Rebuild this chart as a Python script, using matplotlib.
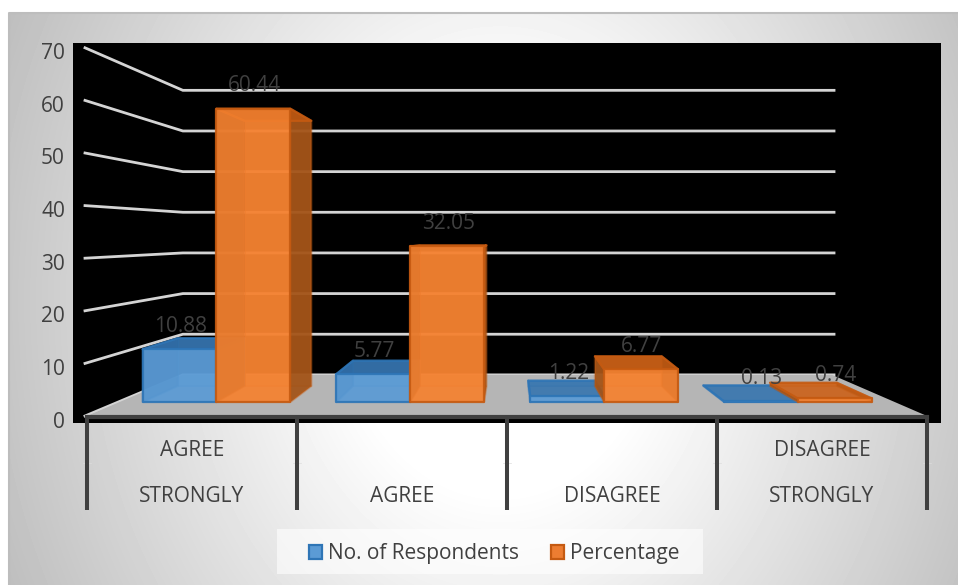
import matplotlib
matplotlib.use("Agg")
import matplotlib.pyplot as plt
import numpy as np
from matplotlib.patches import Polygon, Rectangle

plt.rcParams['font.family'] = ['Open Sans', 'DejaVu Sans']

categories = [["AGREE", "STRONGLY"], ["AGREE"], ["DISAGREE"], ["DISAGREE", "STRONGLY"]]
respondents = [10.88, 5.77, 1.22, 0.13]
percentage = [60.44, 32.05, 6.77, 0.74]
value_ticks = [0, 10, 20, 30, 40, 50, 60, 70]

W, H = 958, 585
TEXT = "#404040"

# perspective set up in pixels
FRONT_LEFT, FRONT_RIGHT = 87, 927
FRONT_Y, PX_PER_UNIT = 416, 5.26
CX, VY = 509, 235
K = 0.294
CAT_W = (FRONT_RIGHT - FRONT_LEFT) / len(categories)
BAR_W = 80
D0, D1 = 0.284, 0.677


def project(u, v, d):
    s = 1 / (1 + K * d)
    x = CX + (u - CX) * s
    y = VY + (FRONT_Y - PX_PER_UNIT * v - VY) * s
    return x, y


def draw_bar(ax, u0, value, fill, side, top, edge, z):
    u1 = u0 + BAR_W
    p = project
    faces = [
        ([p(u0, 0, D1), p(u1, 0, D1), p(u1, value, D1), p(u0, value, D1)], fill, 0.7),
        ([p(u0, 0, D0), p(u1, 0, D0), p(u1, 0, D1), p(u0, 0, D1)], fill, 0.55),
        ([p(u0, 0, D0), p(u0, 0, D1), p(u0, value, D1), p(u0, value, D0)], side, 0.85),
        ([p(u1, 0, D0), p(u1, 0, D1), p(u1, value, D1), p(u1, value, D0)], side, 0.85),
        ([p(u0, value, D0), p(u1, value, D0), p(u1, value, D1), p(u0, value, D1)], top, 0.75),
        ([p(u0, 0, D0), p(u1, 0, D0), p(u1, value, D0), p(u0, value, D0)], fill, 0.85),
    ]
    for i, (pts, color, alpha) in enumerate(faces):
        ax.add_patch(Polygon(pts, closed=True, facecolor=color, alpha=alpha, edgecolor="none", zorder=z + i * 0.01))
        ax.add_patch(Polygon(pts, closed=True, facecolor="none", edgecolor=edge,
                             linewidth=1.6 if i >= 2 else 0.6, alpha=0.9 if i >= 4 else 0.35,
                             joinstyle="round", zorder=z + i * 0.01 + 0.005))


fig = plt.figure(figsize=(W / 100, H / 100), dpi=100)
ax = fig.add_axes([0, 0, 1, 1])
ax.axis("off")

# chart area gradient
xx, yy = np.meshgrid(np.arange(9, W), np.arange(13, H))
r = np.sqrt(((xx - 500) / 480) ** 2 + ((yy - 300) / 600) ** 2)
shade = 255 - 80 * np.clip(r - 0.32, 0, 0.8)
ax.imshow(shade, cmap="gray", vmin=0, vmax=255, extent=(9, W, H, 13), aspect="auto", zorder=0)
ax.set_xlim(0, W)
ax.set_ylim(H, 0)
ax.plot([9, 9, W], [H, 13, 13], color="#BDBDBD", lw=1.5, zorder=1)

# plot area
ax.add_patch(Rectangle((73, 43), 868, 379.5, facecolor="black", edgecolor="none", zorder=1))

# gridlines on side wall and back wall
for t in value_ticks:
    x0, y0 = project(FRONT_LEFT, t, 0)
    x1, y1 = project(FRONT_LEFT, t, 1)
    x2, y2 = project(FRONT_RIGHT, t, 1)
    ax.plot([x0 - 2, x1, x2 + 2], [y0, y1, y2], color="#D4D4D4", lw=2, solid_joinstyle="miter", zorder=2)
    ax.text(65, y0 + 6, str(t), ha="right", va="center", fontsize=15, color=TEXT, zorder=6)

# floor
floor = [project(FRONT_LEFT, 0, 0), project(FRONT_RIGHT, 0, 0), project(FRONT_RIGHT, 0, 1), project(FRONT_LEFT, 0, 1)]
ax.add_patch(Polygon(floor, closed=True, facecolor="#B5B5B5", edgecolor="none", zorder=2.5))
ax.plot([FRONT_LEFT, FRONT_RIGHT], [FRONT_Y + 0.7, FRONT_Y + 0.7], color=TEXT, lw=3, zorder=2.6)

# category separators and labels
for i in range(len(categories) + 1):
    x = FRONT_LEFT + i * CAT_W
    ax.plot([x, x], [FRONT_Y, 510], color=TEXT, lw=2.9, solid_capstyle="butt", zorder=3)
    ax.plot([x - 4, x + 4], [463, 463], color="#DDDDDD", lw=0.5, zorder=2.9)
for i, lines in enumerate(categories):
    x = FRONT_LEFT + (i + 0.5) * CAT_W
    ax.text(x, 496, lines[-1], ha="center", va="center", fontsize=15, color=TEXT, zorder=6)
    if len(lines) > 1:
        ax.text(x, 450, lines[0], ha="center", va="center", fontsize=15, color=TEXT, zorder=6)

# bars
for i in range(len(categories)):
    centre = FRONT_LEFT + (i + 0.5) * CAT_W
    draw_bar(ax, centre - BAR_W, respondents[i], "#5B9BD5", "#3E78B0", "#2E6DA8", "#2E75B6", 4)
    draw_bar(ax, centre, percentage[i], "#F58231", "#9A4F16", "#C55A11", "#C55A11", 5)
    for u0, value in [(centre - BAR_W, respondents[i]), (centre, percentage[i])]:
        x, y = project(u0 + BAR_W / 2, value, D0)
        ax.text(x + 1, y - 23, f"{value:g}", ha="center", va="center", fontsize=15, color=TEXT, zorder=7)

# legend
ax.add_patch(Rectangle((277, 529), 426, 45, facecolor="white", alpha=0.6, edgecolor="none", zorder=3))
for x0, label, fill, edge in [(309, "No. of Respondents", "#5B9BD5", "#2E75B6"), (551, "Percentage", "#ED7D31", "#C55A11")]:
    ax.add_patch(Rectangle((x0, 545), 13.5, 13.5, facecolor=fill, edgecolor=edge, linewidth=1.6, zorder=4))
    ax.text(x0 + 19, 554, label, ha="left", va="center", fontsize=15, color=TEXT, zorder=6)

fig.savefig("out.png", dpi=100)
